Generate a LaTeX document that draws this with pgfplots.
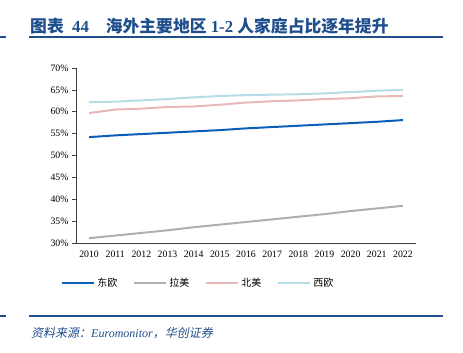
\documentclass[border=0pt]{standalone}
\usepackage{pgfplots}
\pgfplotsset{compat=1.18}
\usepackage{fontspec}
\setmainfont{Liberation Serif}
\newfontfamily\cjk{Noto Sans CJK SC}
\newfontfamily\cjkit[FakeSlant=0.2]{Noto Sans CJK SC}
\definecolor{titleblue}{HTML}{1F4E8C}
\definecolor{ceu}{HTML}{0A5EB8}
\definecolor{clat}{HTML}{AFAFAF}
\definecolor{cna}{HTML}{E8B8B8}
\definecolor{cwe}{HTML}{B5DDE8}
\definecolor{axgray}{HTML}{404040}
\begin{document}
\begin{tikzpicture}[x=1pt,y=1pt]
\path[use as bounding box] (0,0) rectangle (463,353);
% title
\node[anchor=west,text=titleblue,inner sep=0] at (30,327) {\fontsize{16.8}{19}\selectfont\bfseries{\cjk\bfseries 图表}\ \ 44\quad{\cjk\bfseries 海外主要地区} 1-2 {\cjk\bfseries 人家庭占比逐年提升}};
\draw[titleblue,line width=1.3pt] (29,316) -- (443,316);
\draw[titleblue,line width=1.3pt] (0,316) -- (6,316);
\draw[titleblue,line width=1.3pt] (29,37) -- (443,37);
\draw[titleblue,line width=1.3pt] (0,37) -- (6,37);
\node[anchor=west,text=titleblue,inner sep=0] at (31,20) {\fontsize{12}{14}\selectfont{\cjkit 资料来源：}\textit{Euromonitor}{\cjkit ，华创证券}};
\begin{axis}[
  at={(76pt,110pt)}, anchor=south west,
  scale only axis, width=340pt, height=175pt,
  xmin=-0.5, xmax=12.5, ymin=30, ymax=70,
  axis lines*=left,
  axis line style={axgray,line width=0.6pt},
  xtick={0,...,12},
  xticklabels={2010,2011,2012,2013,2014,2015,2016,2017,2018,2019,2020,2021,2022},
  major x tick style={draw=none},
  extra x ticks={-0.5,0.5,...,12.5},
  extra x tick labels={},
  extra x tick style={tick style={axgray,line width=0.6pt}, major tick length=4pt, tick align=outside},
  ytick={30,35,...,70},
  yticklabel={\pgfmathprintnumber{\tick}\%},
  y tick style={axgray,line width=0.6pt},
  tick align=outside, major tick length=4pt,
  ticklabel style={font=\fontsize{9.8}{11}\selectfont, text=black},
  /pgf/number format/assume math mode=true,
  legend style={at={(0.36,-0.23)}, anchor=center, draw=none, legend columns=4,
    font=\fontsize{10}{12}\selectfont\cjk,
    /tikz/every even column/.append style={column sep=14pt}},
  legend image code/.code={\draw[#1,line width=2pt] (0pt,0pt) -- (32pt,0pt);},
  clip=false,
]
\addplot[ceu,line width=2pt] coordinates {(0,54.2)(1,54.6)(2,54.9)(3,55.2)(4,55.5)(5,55.8)(6,56.2)(7,56.5)(8,56.8)(9,57.1)(10,57.4)(11,57.7)(12,58.1)};
\addlegendentry{东欧}
\addplot[clat,line width=2pt] coordinates {(0,31.1)(1,31.7)(2,32.3)(3,32.9)(4,33.6)(5,34.2)(6,34.8)(7,35.4)(8,36.0)(9,36.6)(10,37.3)(11,37.9)(12,38.5)};
\addlegendentry{拉美}
\addplot[cna,line width=2pt] coordinates {(0,59.7)(1,60.5)(2,60.7)(3,61.1)(4,61.2)(5,61.6)(6,62.1)(7,62.4)(8,62.6)(9,62.9)(10,63.1)(11,63.5)(12,63.6)};
\addlegendentry{北美}
\addplot[cwe,line width=2pt] coordinates {(0,62.2)(1,62.3)(2,62.6)(3,62.9)(4,63.3)(5,63.6)(6,63.8)(7,63.9)(8,64.0)(9,64.2)(10,64.5)(11,64.8)(12,65.0)};
\addlegendentry{西欧}
\end{axis}
\end{tikzpicture}
\end{document}
